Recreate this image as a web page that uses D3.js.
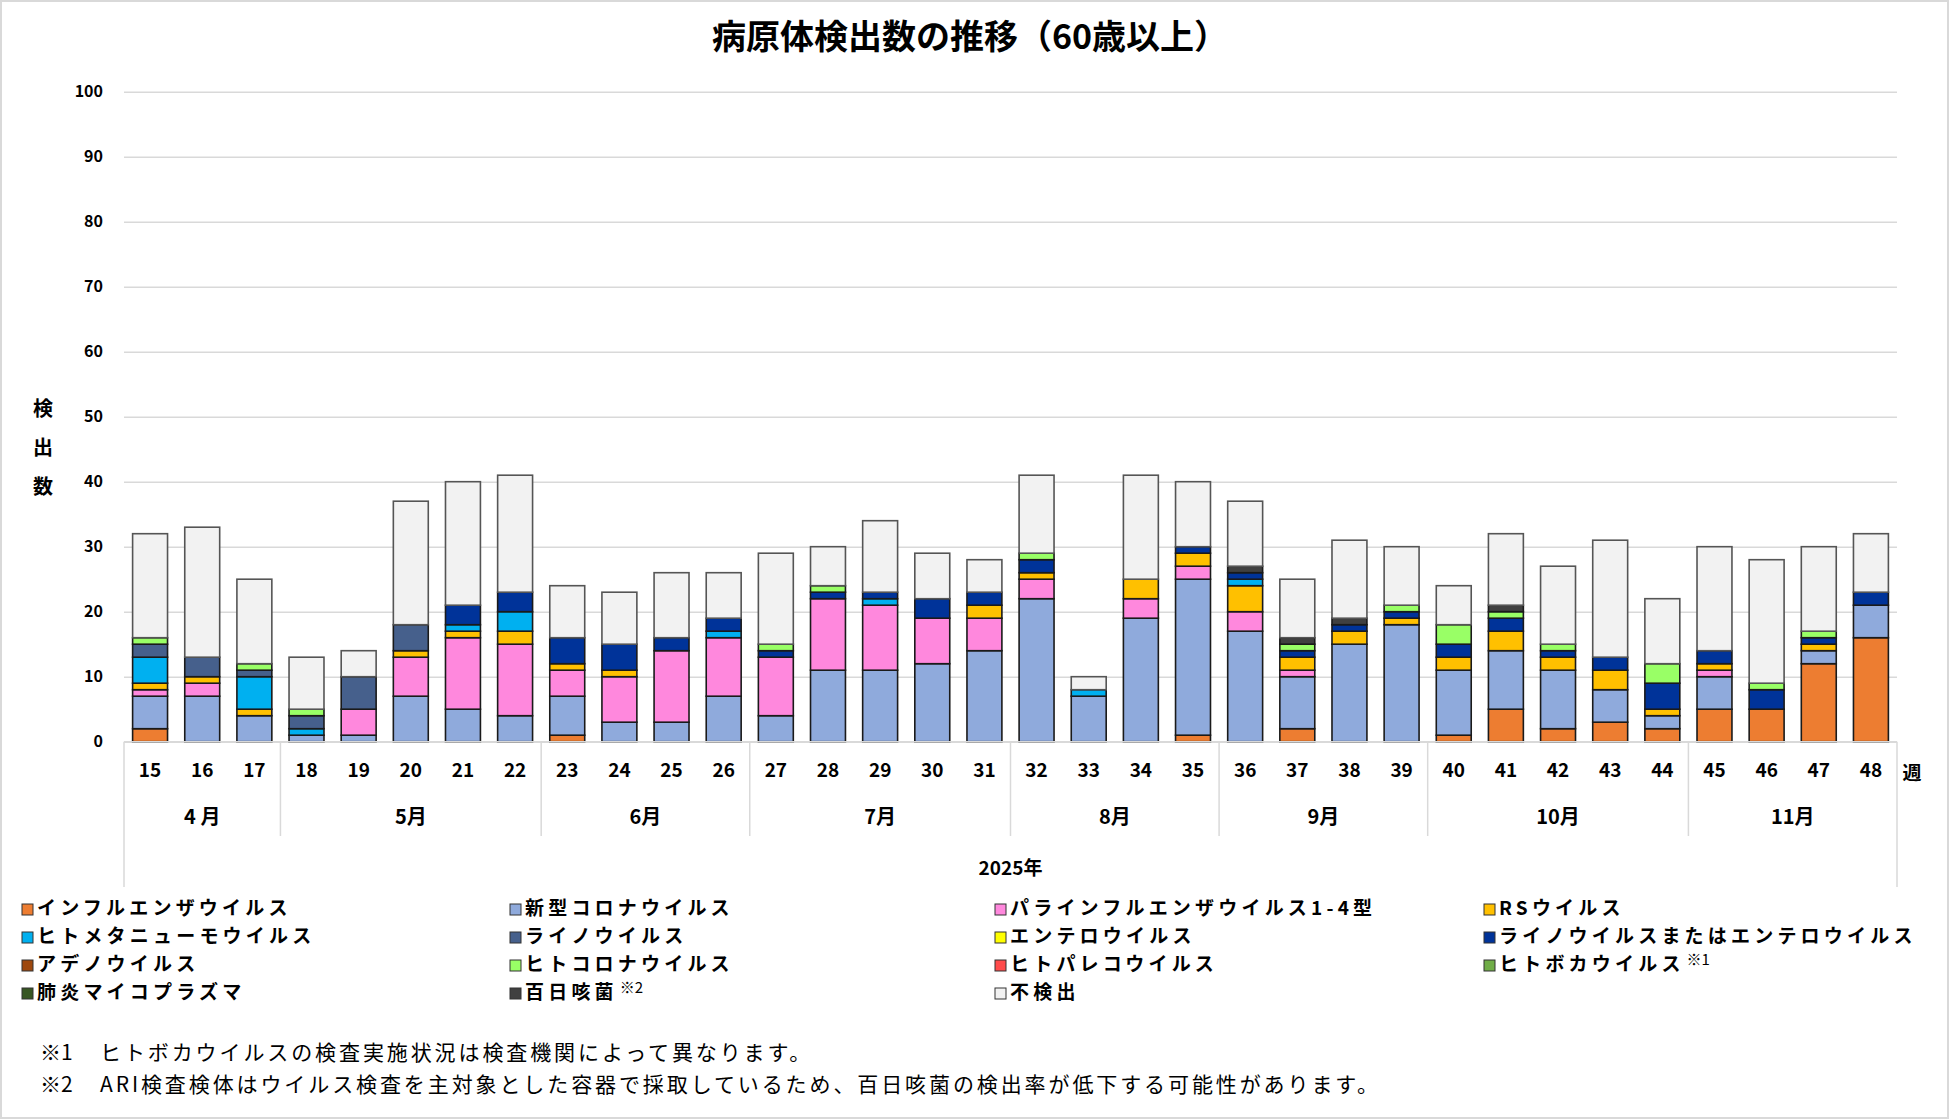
<!DOCTYPE html>
<html>
<head>
<meta charset="utf-8">
<script src="https://cdn.jsdelivr.net/npm/d3@7"></script>
<style>
  body { margin: 0; background: #fff; }
  text { font-family: "Noto Sans CJK JP", "Noto Sans", sans-serif; fill: #000; }
</style>
</head>
<body>
<svg id="chart" width="1950" height="1120"></svg>
<script>
// weeks and month groups
const weeks = [15,16,17,18,19,20,21,22,23,24,25,26,27,28,29,30,31,32,33,34,35,36,37,38,39,40,41,42,43,44,45,46,47,48];
const months = [
  { label: '4 月', from: 15, to: 17 },
  { label: '5月', from: 18, to: 22 },
  { label: '6月', from: 23, to: 26 },
  { label: '7月', from: 27, to: 31 },
  { label: '8月', from: 32, to: 35 },
  { label: '9月', from: 36, to: 39 },
  { label: '10月', from: 40, to: 44 },
  { label: '11月', from: 45, to: 48 }
];
const yTicks = [0,10,20,30,40,50,60,70,80,90,100];

// series values, bottom to top
const flu         = [2,0,0,0,0,0,0,0,1,0,0,0,0,0,0,0,0,0,0,0,1,0,2,0,0,1,5,2,3,2,5,5,12,16];
const covid       = [5,7,4,1,1,7,5,4,6,3,3,7,4,11,11,12,14,22,7,19,24,17,8,15,18,10,9,9,5,2,5,0,2,5];
const para        = [1,2,0,0,4,6,11,11,4,7,11,9,9,11,10,7,5,3,0,3,2,3,1,0,0,0,0,0,0,0,1,0,0,0];
const rsv         = [1,1,1,0,0,1,1,2,1,1,0,0,0,0,0,0,2,1,0,3,2,4,2,2,1,2,3,2,3,1,1,0,1,0];
const hmpv        = [4,0,5,1,0,0,1,3,0,0,0,1,0,0,1,0,0,0,1,0,0,1,0,0,0,0,0,0,0,0,0,0,0,0];
const rhino       = [2,3,1,2,5,4,0,0,0,0,0,0,0,0,0,0,0,0,0,0,0,0,0,0,0,0,0,0,0,0,0,0,0,0];
const entero      = [0,0,0,0,0,0,0,0,0,0,0,0,0,0,0,0,0,0,0,0,0,0,0,0,0,0,0,0,0,0,0,0,0,0];
const rhinoEntero = [0,0,0,0,0,0,3,3,4,4,2,2,1,1,1,3,2,2,0,0,1,1,1,1,1,2,2,1,2,4,2,3,1,2];
const adeno       = [0,0,0,0,0,0,0,0,0,0,0,0,0,0,0,0,0,0,0,0,0,0,0,0,0,0,0,0,0,0,0,0,0,0];
const hcov        = [1,0,1,1,0,0,0,0,0,0,0,0,1,1,0,0,0,1,0,0,0,0,1,0,1,3,1,1,0,3,0,1,1,0];
const parecho     = [0,0,0,0,0,0,0,0,0,0,0,0,0,0,0,0,0,0,0,0,0,0,0,0,0,0,0,0,0,0,0,0,0,0];
const boca        = [0,0,0,0,0,0,0,0,0,0,0,0,0,0,0,0,0,0,0,0,0,0,0,0,0,0,0,0,0,0,0,0,0,0];
const myco        = [0,0,0,0,0,0,0,0,0,0,0,0,0,0,0,0,0,0,0,0,0,0,0,0,0,0,0,0,0,0,0,0,0,0];
const pertussis   = [0,0,0,0,0,0,0,0,0,0,0,0,0,0,0,0,0,0,0,0,0,1,1,1,0,0,1,0,0,0,0,0,0,0];
const notFound    = [16,20,13,8,4,19,19,18,8,8,10,7,14,6,11,7,5,12,2,16,10,10,9,12,9,6,11,12,18,10,16,19,13,9];

const seriesNames = ['インフルエンザウイルス','新型コロナウイルス','パラインフルエンザウイルス1-4型','RSウイルス',
  'ヒトメタニューモウイルス','ライノウイルス','エンテロウイルス','ライノウイルスまたはエンテロウイルス',
  'アデノウイルス','ヒトコロナウイルス','ヒトパレコウイルス','ヒトボカウイルス',
  '肺炎マイコプラズマ','百日咳菌','不検出'];
const seriesNotes = ['','','','','','','','','','','','※1','','※2',''];
const seriesValues = [flu,covid,para,rsv,hmpv,rhino,entero,rhinoEntero,adeno,hcov,parecho,boca,myco,pertussis,notFound];
const seriesColors = ['#ED7D31','#8FAADC','#FF88DD','#FFC000','#00B0F0','#46608C','#FFFF00','#003399',
  '#9E480E','#99FF66','#FF4B4B','#70AD47','#375623','#404040','#F2F2F2'];

const svg = d3.select('#chart');
const LEFT = 124, RIGHT = 1897, TOP = 91.7, BOTTOM = 741.7;

// outer frame
svg.append('rect').attr('x', 1).attr('y', 1).attr('width', 1947).attr('height', 1117)
  .attr('fill', '#fff').attr('stroke', '#d9d9d9').attr('stroke-width', 2);

const x = d3.scaleBand().domain(weeks).range([LEFT, RIGHT]).paddingInner(0.33).paddingOuter(0.165);
const y = d3.scaleLinear().domain([0, 100]).range([BOTTOM, TOP]);

// gridlines
svg.append('g')
  .attr('transform', `translate(${LEFT},0)`)
  .call(d3.axisLeft(y).tickValues(yTicks).tickSize(-(RIGHT - LEFT)).tickFormat(''))
  .call(g => g.select('.domain').remove())
  .call(g => g.selectAll('line').attr('stroke', '#d9d9d9').attr('stroke-width', 1.5));

// y tick labels
svg.append('g')
  .attr('transform', `translate(${LEFT - 21},0)`)
  .call(d3.axisLeft(y).tickValues(yTicks).tickSize(0).tickPadding(0))
  .call(g => g.select('.domain').remove())
  .call(g => g.selectAll('text').attr('font-size', 16).attr('font-weight', 700)
    .style('font-family', '"Noto Sans CJK JP", sans-serif').attr('fill', '#000'));

// y axis title, one character per line
['検','出','数'].forEach((ch, i) => {
  svg.append('text').attr('x', 43).attr('y', 411 + i * 39)
    .attr('text-anchor', 'middle').attr('dominant-baseline', 'middle')
    .attr('font-size', 20).attr('font-weight', 700).text(ch);
});

// stacked bars
const rows = weeks.map((w, i) => {
  const r = { week: w };
  seriesNames.forEach((n, k) => { r[n] = seriesValues[k][i]; });
  return r;
});
const stack = d3.stack().keys(seriesNames)(rows);

stack.forEach((layer, k) => {
  svg.append('g')
    .selectAll('rect')
    .data(layer.filter(d => d[1] - d[0] > 0))
    .join('rect')
    .attr('x', d => x(d.data.week))
    .attr('width', x.bandwidth())
    .attr('y', d => y(d[1]))
    .attr('height', d => y(d[0]) - y(d[1]))
    .attr('fill', seriesColors[k])
    .attr('stroke', k === seriesNames.length - 1 ? '#555' : '#1a1a1a')
    .attr('stroke-width', 1.6);
});

// x axis line
svg.append('line').attr('x1', LEFT).attr('x2', RIGHT).attr('y1', BOTTOM).attr('y2', BOTTOM)
  .attr('stroke', '#d9d9d9').attr('stroke-width', 1.5);

// week labels
svg.append('g')
  .attr('transform', `translate(0,${BOTTOM})`)
  .call(d3.axisBottom(x).tickSize(0).tickPadding(22))
  .call(g => g.select('.domain').remove())
  .call(g => g.selectAll('text').attr('font-size', 19).attr('font-weight', 700)
    .style('font-family', '"Noto Sans CJK JP", sans-serif').attr('fill', '#000'));

svg.append('text').attr('x', 1912).attr('y', 775).attr('text-anchor', 'middle')
  .attr('dominant-baseline', 'middle').attr('font-size', 19).attr('font-weight', 700).text('週');

// month groups
const step = x.step();
months.forEach((m, i) => {
  const x0 = x(m.from) - step * x.paddingInner() / 2;
  const x1 = x(m.to) + x.bandwidth() + step * x.paddingInner() / 2;
  svg.append('text').attr('x', (x0 + x1) / 2).attr('y', 819)
    .attr('text-anchor', 'middle').attr('dominant-baseline', 'middle')
    .attr('font-size', 20).attr('font-weight', 700).text(m.label);
  if (i > 0) {
    svg.append('line').attr('x1', x0).attr('x2', x0).attr('y1', BOTTOM).attr('y2', 836)
      .attr('stroke', '#d9d9d9').attr('stroke-width', 1.5);
  }
});
[LEFT, RIGHT].forEach(px => {
  svg.append('line').attr('x1', px).attr('x2', px).attr('y1', BOTTOM).attr('y2', 887)
    .attr('stroke', '#d9d9d9').attr('stroke-width', 1.5);
});
svg.append('text').attr('x', (LEFT + RIGHT) / 2).attr('y', 870)
  .attr('text-anchor', 'middle').attr('dominant-baseline', 'middle')
  .attr('font-size', 19).attr('font-weight', 700).text('2025年');

// title
svg.append('text').attr('x', 970).attr('y', 40)
  .attr('text-anchor', 'middle').attr('dominant-baseline', 'middle')
  .attr('font-size', 34).attr('font-weight', 700).text('病原体検出数の推移（60歳以上）');

// legend
const legendX = [22, 510, 995, 1484];
seriesNames.forEach((n, k) => {
  const lx = legendX[k % 4], ly = 910 + Math.floor(k / 4) * 28;
  svg.append('rect').attr('x', lx).attr('y', ly - 6).attr('width', 11).attr('height', 11)
    .attr('fill', seriesColors[k]).attr('stroke', '#333').attr('stroke-width', 1);
  const t = svg.append('text').attr('x', lx + 15).attr('y', ly)
    .attr('dominant-baseline', 'middle').attr('font-size', 19).attr('font-weight', 700)
    .attr('letter-spacing', 4.2).text(n);
  if (seriesNotes[k]) {
    t.append('tspan').attr('dx', 2).attr('dy', -5).attr('font-size', 15).attr('font-weight', 400)
      .attr('letter-spacing', 0).text(seriesNotes[k]);
  }
});

// footnotes
const notes = [
  ['※1', 'ヒトボカウイルスの検査実施状況は検査機関によって異なります。'],
  ['※2', 'ARI検査検体はウイルス検査を主対象とした容器で採取しているため、百日咳菌の検出率が低下する可能性があります。']
];
notes.forEach((nt, i) => {
  const ny = 1054 + i * 32;
  svg.append('text').attr('x', 40).attr('y', ny).attr('dominant-baseline', 'middle')
    .attr('font-size', 21).text(nt[0]);
  svg.append('text').attr('x', 100).attr('y', ny).attr('dominant-baseline', 'middle')
    .attr('font-size', 21).attr('letter-spacing', 2.9).text(nt[1]);
});
</script>
</body>
</html>
